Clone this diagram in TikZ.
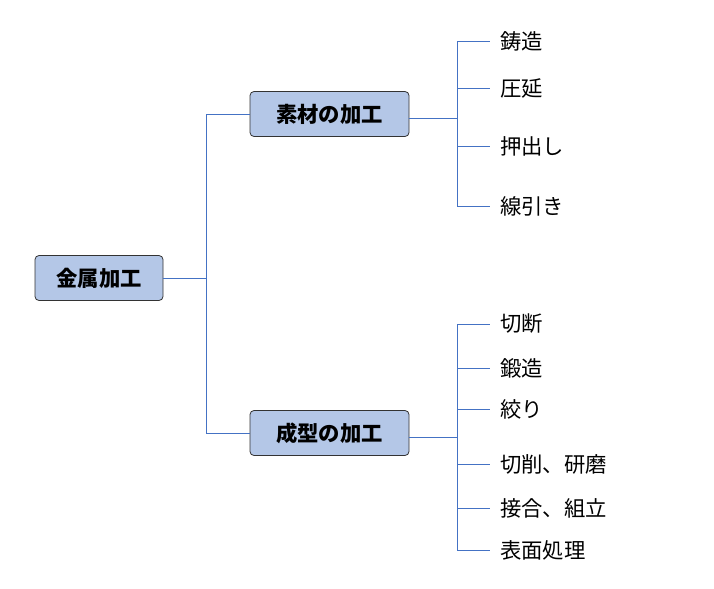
\documentclass[tikz,border=0pt]{standalone}
\usepackage{fontspec}
\setmainfont{Noto Sans CJK JP}
\begin{document}
\begin{tikzpicture}[x=0.75pt,y=-0.75pt,
  box/.style={draw=black!80,fill={rgb,255:red,180;green,199;blue,231},rounded corners=3pt,line width=0.6pt,minimum height=45*0.75pt,inner sep=0pt,font=\fontsize{16}{18}\selectfont\bfseries},
  lbl/.style={anchor=west,inner sep=0pt,inner xsep=7.5pt,font=\fontsize{16}{18}\selectfont},
  ln/.style={draw={rgb,255:red,68;green,114;blue,196},line width=0.6pt}]
\useasboundingbox (0,0) rectangle (714,589);
\node[box,minimum width=128*0.75pt] (root) at (99,278) {金属加工};
\node[box,minimum width=159*0.75pt] (a) at (329.5,114) {素材の加工};
\node[box,minimum width=159*0.75pt] (b) at (329.5,433) {成型の加工};
\coordinate (j) at (206,278);
\draw[ln] (root.east) -- (j) (206,114) -- (206,433);
\draw[ln] (206,114) -- (a.west);
\draw[ln] (206,433) -- (b.west);
\coordinate (ja) at (457,118);
\draw[ln] (a.east|-ja) -- (ja);
\draw[ln] (457,41) -- (457,206);
\foreach \n/\y/\t in {a1/41/鋳造,a2/88/圧延,a3/146/押出し,a4/206/線引き}{
  \node[lbl] (\n) at (490,\y) {\t};
  \draw[ln] (457,\y) -- (\n.west);
}
\coordinate (jb) at (457,437);
\draw[ln] (b.east|-jb) -- (jb);
\draw[ln] (457,324) -- (457,550);
\foreach \n/\y/\t in {b1/324/切断,b2/368/鍛造,b3/409/絞り,b4/464/切削、研磨,b5/508/接合、組立,b6/550/表面処理}{
  \node[lbl] (\n) at (490,\y) {\t};
  \draw[ln] (457,\y) -- (\n.west);
}
\end{tikzpicture}
\end{document}
